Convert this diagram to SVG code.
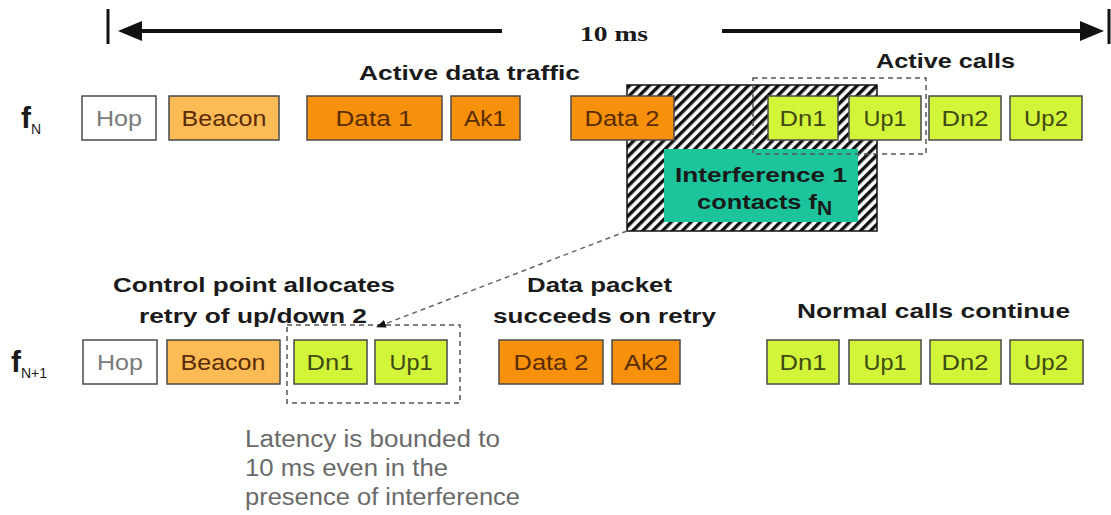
<svg xmlns="http://www.w3.org/2000/svg" width="1111" height="515" viewBox="0 0 1111 515">
<style>
.box{stroke:#4a4a4a;stroke-width:1.5}
.hop{fill:#ffffff}
.bea{fill:#fdbb55}
.dat{fill:#f7900a}
.grn{fill:#d2f53a}
.lbl{font-family:"Liberation Sans",Arial,sans-serif;font-size:22px;text-anchor:middle}
.lh{fill:#7a7a7a}
.lo{fill:#5a2c05}
.lg{fill:#3f4a12}
.bold{font-family:"Liberation Sans",Arial,sans-serif;font-weight:bold;font-size:21px;fill:#1a1a1a}
.note{font-family:"Liberation Sans",Arial,sans-serif;font-size:23px;fill:#6a6a6a}
.freq{font-family:"Liberation Sans",Arial,sans-serif;font-weight:bold;fill:#1a1a1a}
.dash{fill:none;stroke:#555;stroke-width:1.5;stroke-dasharray:5 4}
</style>
<defs>
<pattern id="hatch" width="7" height="7" patternUnits="userSpaceOnUse" patternTransform="rotate(45)">
<rect width="7" height="7" fill="#ffffff"/>
<rect width="3.4" height="7" fill="#111111"/>
</pattern>
<marker id="ah" markerWidth="10" markerHeight="8" refX="9" refY="4" orient="auto" markerUnits="userSpaceOnUse">
<path d="M0,0 L10,4 L0,8 Z" fill="#111"/>
</marker>
</defs>

<g id="timescale">
<line x1="108" y1="9" x2="108" y2="44" stroke="#111" stroke-width="3"/>
<line x1="136" y1="31" x2="502" y2="31" stroke="#111" stroke-width="4"/>
<path d="M118,31 L142,21 L142,41 Z" fill="#111"/>
<line x1="722" y1="31" x2="1082" y2="31" stroke="#111" stroke-width="4"/>
<path d="M1104,31 L1080,21 L1080,41 Z" fill="#111"/>
<line x1="1109" y1="9" x2="1109" y2="44" stroke="#111" stroke-width="3"/>
<text x="580" y="41" font-family="Liberation Serif,serif" font-weight="bold" font-size="20" fill="#1a1a1a" textLength="68" lengthAdjust="spacingAndGlyphs">10 ms</text>
</g>

<g id="interference">
<rect x="627" y="85" width="250" height="146" fill="url(#hatch)" stroke="#111" stroke-width="1.5"/>
</g>

<g id="labels">
<text class="bold" x="359" y="80" textLength="221" lengthAdjust="spacingAndGlyphs">Active data traffic</text>
<text class="bold" x="876" y="68" textLength="139" lengthAdjust="spacingAndGlyphs">Active calls</text>
<text class="bold" x="113" y="292" textLength="282" lengthAdjust="spacingAndGlyphs">Control point allocates</text>
<text class="bold" x="139" y="323" textLength="228" lengthAdjust="spacingAndGlyphs">retry of up/down 2</text>
<text class="bold" x="527" y="292" textLength="145" lengthAdjust="spacingAndGlyphs">Data packet</text>
<text class="bold" x="493" y="323" textLength="223" lengthAdjust="spacingAndGlyphs">succeeds on retry</text>
<text class="bold" x="797" y="318" textLength="273" lengthAdjust="spacingAndGlyphs">Normal calls continue</text>
<text class="note" x="245" y="447" textLength="255" lengthAdjust="spacingAndGlyphs">Latency is bounded to</text>
<text class="note" x="245" y="476" textLength="203" lengthAdjust="spacingAndGlyphs">10 ms even in the</text>
<text class="note" x="245" y="505" textLength="275" lengthAdjust="spacingAndGlyphs">presence of interference</text>
</g>

<g id="freqN">
<text class="freq" x="21" y="128" font-size="30">f<tspan font-size="14" dy="6" font-weight="normal">N</tspan></text>
</g>
<g id="freqN1">
<text class="freq" x="11" y="372" font-size="30">f<tspan font-size="14" dy="6" font-weight="normal">N+1</tspan></text>
</g>

<g id="rowN">
<g id="hopN"><rect class="box hop" x="82" y="96" width="74" height="44"/><text class="lbl lh" x="119" y="126" textLength="46" lengthAdjust="spacingAndGlyphs">Hop</text></g>
<g id="beaconN"><rect class="box bea" x="169" y="96" width="110" height="44"/><text class="lbl lo" x="224" y="126" textLength="85" lengthAdjust="spacingAndGlyphs">Beacon</text></g>
<g id="data1N"><rect class="box dat" x="307" y="96" width="135" height="44"/><text class="lbl lo" x="374" y="126" textLength="77" lengthAdjust="spacingAndGlyphs">Data 1</text></g>
<g id="ak1N"><rect class="box dat" x="451" y="96" width="69" height="44"/><text class="lbl lo" x="485" y="126" textLength="42" lengthAdjust="spacingAndGlyphs">Ak1</text></g>
<g id="data2N"><rect class="box dat" x="571" y="96" width="103" height="44"/><text class="lbl lo" x="622" y="126" textLength="75" lengthAdjust="spacingAndGlyphs">Data 2</text></g>
<g id="dn1N"><rect class="box grn" x="768" y="96" width="70" height="44"/><text class="lbl lg" x="803" y="126" textLength="47" lengthAdjust="spacingAndGlyphs">Dn1</text></g>
<g id="up1N"><rect class="box grn" x="849" y="96" width="72" height="44"/><text class="lbl lg" x="885" y="126" textLength="43" lengthAdjust="spacingAndGlyphs">Up1</text></g>
<g id="dn2N"><rect class="box grn" x="929" y="96" width="72" height="44"/><text class="lbl lg" x="965" y="126" textLength="47" lengthAdjust="spacingAndGlyphs">Dn2</text></g>
<g id="up2N"><rect class="box grn" x="1010" y="96" width="72" height="44"/><text class="lbl lg" x="1046" y="126" textLength="44" lengthAdjust="spacingAndGlyphs">Up2</text></g>
</g>

<g id="interferenceBox">
<rect x="664" y="149" width="194" height="73" fill="#1cc49c"/>
<text class="bold" x="675" y="182" font-size="21" fill="#16251f" textLength="172" lengthAdjust="spacingAndGlyphs">Interference 1</text>
<text class="bold" x="697" y="209" font-size="21" fill="#16251f" textLength="120" lengthAdjust="spacingAndGlyphs">contacts f</text>
<text class="bold" x="817" y="215" font-size="13" fill="#16251f">N</text>
</g>

<g id="activeCallsGroup">
<rect class="dash" x="753" y="78" width="173" height="76"/>
</g>

<g id="rowN1">
<g id="hopN1"><rect class="box hop" x="83" y="340" width="74" height="44"/><text class="lbl lh" x="120" y="370" textLength="46" lengthAdjust="spacingAndGlyphs">Hop</text></g>
<g id="beaconN1"><rect class="box bea" x="167" y="340" width="113" height="44"/><text class="lbl lo" x="223" y="370" textLength="85" lengthAdjust="spacingAndGlyphs">Beacon</text></g>
<g id="dn1N1"><rect class="box grn" x="294" y="340" width="73" height="44"/><text class="lbl lg" x="330" y="370" textLength="47" lengthAdjust="spacingAndGlyphs">Dn1</text></g>
<g id="up1N1"><rect class="box grn" x="375" y="340" width="72" height="44"/><text class="lbl lg" x="411" y="370" textLength="43" lengthAdjust="spacingAndGlyphs">Up1</text></g>
<g id="data2N1"><rect class="box dat" x="499" y="340" width="104" height="44"/><text class="lbl lo" x="551" y="370" textLength="75" lengthAdjust="spacingAndGlyphs">Data 2</text></g>
<g id="ak2N1"><rect class="box dat" x="612" y="340" width="68" height="44"/><text class="lbl lo" x="646" y="370" textLength="44" lengthAdjust="spacingAndGlyphs">Ak2</text></g>
<g id="dn1bN1"><rect class="box grn" x="767" y="340" width="72" height="44"/><text class="lbl lg" x="803" y="370" textLength="47" lengthAdjust="spacingAndGlyphs">Dn1</text></g>
<g id="up1bN1"><rect class="box grn" x="849" y="340" width="72" height="44"/><text class="lbl lg" x="885" y="370" textLength="43" lengthAdjust="spacingAndGlyphs">Up1</text></g>
<g id="dn2N1"><rect class="box grn" x="930" y="340" width="71" height="44"/><text class="lbl lg" x="965" y="370" textLength="47" lengthAdjust="spacingAndGlyphs">Dn2</text></g>
<g id="up2N1"><rect class="box grn" x="1010" y="340" width="73" height="44"/><text class="lbl lg" x="1046" y="370" textLength="44" lengthAdjust="spacingAndGlyphs">Up2</text></g>
</g>

<g id="retryGroup">
<rect class="dash" x="287" y="325" width="173" height="78"/>
</g>

<g id="connectors">
<line x1="627" y1="231" x2="377" y2="327" stroke="#666" stroke-width="1.5" stroke-dasharray="5 4" marker-end="url(#ah)"/>
</g>
</svg>
